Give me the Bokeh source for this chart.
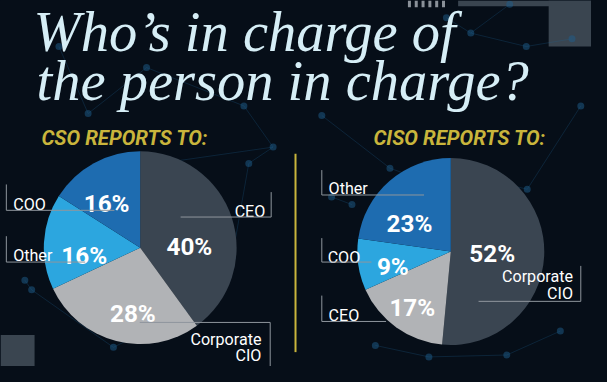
import math
from bokeh.plotting import figure
from bokeh.models import Range1d, ColumnDataSource
from bokeh.core.properties import value
from bokeh.embed import file_html
from bokeh.resources import INLINE
from bokeh.core.templates import get_env

# ---------------- data ----------------
title_lines = ["Who\u2019s in charge of", "the person in charge?"]
cso_title = "CSO REPORTS TO:"
ciso_title = "CISO REPORTS TO:"

cso_labels = ["CEO", "Corporate CIO", "Other", "COO"]
cso_values = [40, 28, 16, 16]

ciso_labels = ["Corporate CIO", "CEO", "COO", "Other"]
ciso_values = [52, 17, 9, 23]

# ---------------- style ----------------
W, H = 607, 382
PW, PH = 591, 366
FS = PW / W
BG = "#060e18"
SLICE_COLORS = ["#3a4551", "#b1b3b6", "#2ca6df", "#1e6cb0"]
GOLD = "#c9b53c"
TITLE_C = "#d6eef6"
LINE_C = "#8f969d"
PANEL_C = "#3a4550"
DOT_C = "#1d5d8c"


def Y(v):
    return H - v


def fs(px):
    return f"{px * FS:.1f}px"


p = figure(width=PW, height=PH, x_range=Range1d(0, W), y_range=Range1d(0, H),
           x_axis_type=None, y_axis_type=None, output_backend="svg",
           toolbar_location=None, min_border=0, background_fill_color=BG,
           border_fill_color=BG, outline_line_color=None)
p.grid.visible = False

# ---------------- background decoration ----------------
p.quad(left=[470, 563, 0], right=[607, 607, 35], top=[Y(0), Y(0), Y(349)],
       bottom=[Y(6), Y(48), Y(382)], fill_color=PANEL_C, line_color=None)
for hx in [420, 427, 434, 441, 448, 455]:
    p.segment(x0=[hx], y0=[Y(0)], x1=[hx], y1=[Y(7)], line_color="#8a9199", line_width=3)

net_x = [170, 255, 280, 238, 25, 32, 116, 193, 400, 491, 541, 467, 361, 340, 523, 483, 540, 587, 458,
         60, 90, 150, 330, 596, 575, 520, 440, 385, 250]
net_y = [169, 170, 153, 268, 292, 302, 362, 322, 175, 185, 197, 200, 213, 205, 4, 34, 48, 40, 18,
         48, 118, 70, 120, 110, 345, 370, 372, 360, 110]
p.scatter(x=net_x, y=[Y(v) for v in net_y], size=7, fill_color=DOT_C, fill_alpha=0.5, line_color=None)
net_lines = [(0, 2), (1, 2), (3, 1), (4, 5), (5, 6), (6, 7), (8, 11), (9, 11), (9, 10), (12, 13),
             (14, 15), (15, 16), (16, 17), (15, 18), (19, 20), (20, 21), (21, 28), (22, 8), (23, 10),
             (24, 25), (25, 26), (26, 27), (28, 2)]
p.multi_line(xs=[[net_x[a], net_x[b]] for a, b in net_lines],
             ys=[[Y(net_y[a]), Y(net_y[b])] for a, b in net_lines],
             line_color=DOT_C, line_alpha=0.28, line_width=1)

# ---------------- titles ----------------
p.text(x=[34, 37], y=[Y(33), Y(84)], text=title_lines, text_font=value("Liberation Serif"),
       text_font_style="italic", text_font_size=fs(58), text_color=TITLE_C,
       text_baseline="alphabetic", text_align="left")
p.text(x=[42, 383], y=[Y(143), Y(143)], text=[cso_title, ciso_title], text_font=value("Roboto"),
       text_font_style="bold italic", text_font_size=fs(21), text_color=GOLD,
       text_baseline="alphabetic", text_align="left")
p.segment(x0=[303], y0=[Y(160)], x1=[303], y1=[Y(367)], line_color=GOLD, line_width=2)


# ---------------- pies ----------------
def pie(cx, cy, r, values):
    total = float(sum(values))
    starts, ends, cum = [], [], 0.0
    for v in values:
        starts.append(math.pi / 2 - 2 * math.pi * cum / total)
        cum += v
        ends.append(math.pi / 2 - 2 * math.pi * cum / total)
    src = ColumnDataSource(dict(start=starts, end=ends, color=SLICE_COLORS[:len(values)]))
    p.wedge(x=cx, y=Y(cy), radius=r, start_angle="start", end_angle="end", direction="clock",
            fill_color="color", line_color=None, source=src)


pie(143.5, 258, 99, cso_values)
pie(462.5, 262, 96, ciso_values)

# percentage labels (positions per slice)
cso_pct_pos = [(194, 257), (136, 327), (86, 266), (109, 212)]
ciso_pct_pos = [(505, 264), (423, 320), (403, 278), (420, 233)]
pct_x, pct_y, pct_t = [], [], []
for vals, pos in [(cso_values, cso_pct_pos), (ciso_values, ciso_pct_pos)]:
    for v, (px, py) in zip(vals, pos):
        pct_x.append(px)
        pct_y.append(Y(py))
        pct_t.append(f"{v}%")
p.text(x=pct_x, y=pct_y, text=pct_t, text_font=value("Roboto"), text_font_style="bold",
       text_font_size=fs(25), text_color="white", text_align="center", text_baseline="alphabetic")


# category labels with leader lines
def label(words, tx, bys, align, vx, vy0, vy1, hx0, hx1, hy):
    p.text(x=[tx] * len(words), y=[Y(b) for b in bys], text=words, text_font=value("Roboto"),
           text_font_size=fs(16.5), text_color="white", text_align=align, text_baseline="alphabetic")
    p.multi_line(xs=[[vx, vx], [hx0, hx1]], ys=[[Y(vy0), Y(vy1)], [Y(hy), Y(hy)]],
                 line_color=LINE_C, line_width=1)


def split(lbl):
    return lbl.split(" ") if lbl == "Corporate CIO" else [lbl]


# left pie: CEO, Corporate CIO, Other, COO
label(split(cso_labels[0]), 272, [220], "right", 278, 200, 226, 185, 278, 226)
label(split(cso_labels[1]), 268, [354, 370], "right", 277, 336, 382, 143, 277, 336)
label(split(cso_labels[2]), 13, [266], "left", 6, 246, 273, 6, 87, 273)
label(split(cso_labels[3]), 13, [213], "left", 6, 192, 219, 6, 117, 219)

# right pie: Corporate CIO, CEO, COO, Other
label(split(ciso_labels[0]), 588, [288, 306], "right", 596, 277, 314, 491, 596, 314)
label(split(ciso_labels[1]), 337, [329], "left", 330, 308, 335, 330, 396, 335)
label(split(ciso_labels[2]), 336, [268], "left", 330, 248, 273, 330, 381, 273)
label(split(ciso_labels[3]), 337, [196], "left", 330, 177, 203, 330, 435, 203)

tmpl = get_env().from_string(
    '{% extends "file.html" %}{% block postamble %}'
    '<style>html,body{background:#060e18;}</style>{% endblock %}')
open("out.html", "w").write(file_html(p, INLINE, template=tmpl))
